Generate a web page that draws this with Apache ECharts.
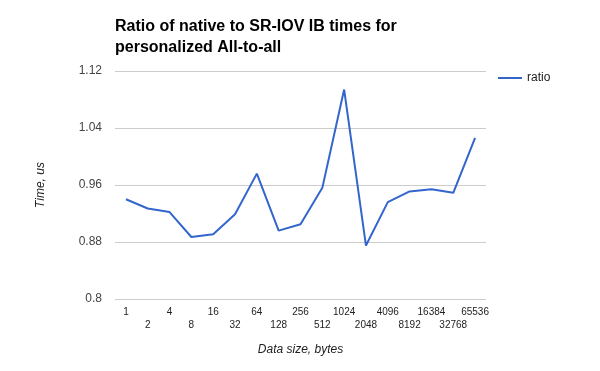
<!DOCTYPE html>
<html><head><meta charset="utf-8">
<script src="https://cdn.jsdelivr.net/npm/echarts@6/dist/echarts.min.js"></script>
<style>html,body{margin:0;padding:0;background:#fff}#c{width:600px;height:371px}</style>
</head><body><div id="c"></div>
<script>
const categories = ['1','2','4','8','16','32','64','128','256','512','1024','2048','4096','8192','16384','32768','65536'];
const ratio = [0.940,0.927,0.922,0.887,0.891,0.919,0.976,0.896,0.905,0.956,1.094,0.875,0.936,0.951,0.954,0.949,1.026];
const yTicks = [0.8,0.88,0.96,1.04,1.12];
const font = '"Liberation Sans", Arial, sans-serif';
const chart = echarts.init(document.getElementById('c'));
chart.setOption({
  animation:false,
  title:{text:'Ratio of native to SR-IOV IB times for\npersonalized All-to-all',left:110,top:11,
    textStyle:{fontFamily:font,fontSize:16,fontWeight:'bold',color:'#000',lineHeight:21}},
  legend:{data:['ratio'],left:493,top:67,orient:'vertical',itemWidth:24,itemHeight:2,itemGap:5,icon:'rect',
    textStyle:{fontFamily:font,fontSize:12,color:'#222'}},
  grid:{left:115,right:114,top:71,bottom:72},
  xAxis:{type:'category',data:categories,boundaryGap:true,
    name:'Data size, bytes',nameLocation:'middle',nameGap:45,
    nameTextStyle:{fontFamily:font,fontSize:12,fontStyle:'italic',color:'#222'},
    axisLine:{show:false},axisTick:{show:false},
    axisLabel:{interval:0,fontFamily:font,fontSize:10,color:'#222',margin:7,lineHeight:13,
      formatter:(v,i)=> i%2===0 ? v : '\n'+v}},
  yAxis:{type:'value',min:yTicks[0],max:yTicks[yTicks.length-1],interval:0.08,
    name:'Time, us',nameLocation:'middle',nameGap:68,nameRotate:90,
    nameTextStyle:{fontFamily:font,fontSize:12,fontStyle:'italic',color:'#222'},
    axisLine:{show:false},axisTick:{show:false},
    axisLabel:{fontFamily:font,fontSize:12,color:'#444',margin:13,padding:[3,0,0,0],formatter:v=>String(+v.toFixed(2))},
    splitLine:{lineStyle:{color:'#cccccc',width:1}}},
  series:[{name:'ratio',type:'line',data:ratio,symbol:'none',
    lineStyle:{color:'#3366cc',width:2},itemStyle:{color:'#3366cc'}}]
});
</script></body></html>
